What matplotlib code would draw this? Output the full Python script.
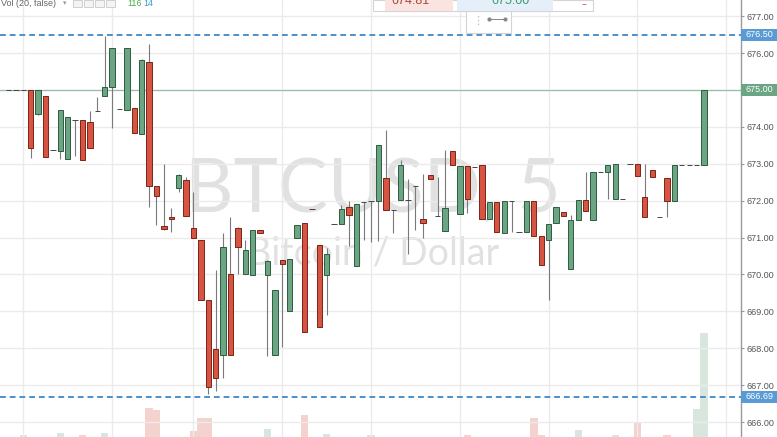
import matplotlib.pyplot as plt
from matplotlib.patches import Rectangle
from matplotlib.lines import Line2D
import matplotlib.transforms as mtransforms
import numpy as np

# 5 minute candles, BTCUSD
opens = [675.00, 675.00, 675.00,
         675.00, 674.34, 674.84, 673.37, 673.36, 673.12, 674.20, 674.20, 674.13, 674.43,
         674.84, 675.09, 674.48, 674.46, 674.50, 673.81, 675.75, 672.40, 671.31, 671.55,
         672.34, 672.56, 671.25, 670.93, 669.31, 667.99, 667.83, 670.00, 671.25, 670.01,
         669.99, 671.21, 669.99, 667.81, 670.39, 669.01, 670.98, 671.39, 671.77, 670.80,
         669.99, 671.36, 671.36, 671.84, 670.24, 671.97, 672.00, 671.99, 672.61, 671.75,
         672.02, 672.02, 672.40, 671.50, 672.70, 671.59, 671.18, 673.35, 671.65, 672.95,
         672.92, 672.97, 671.50, 671.97, 671.13, 671.99, 671.16, 671.15, 671.99, 671.03,
         670.93, 671.39, 671.69, 670.15, 671.47, 672.01, 671.47, 672.79, 672.79, 672.04,
         672.04, 672.99, 672.99, 672.11, 672.83, 671.57, 672.62, 672.00, 672.97, 672.97,
         672.97, 672.97]
highs = [675.00, 675.00, 675.00,
         675.00, 675.00, 674.84, 673.37, 674.46, 674.28, 674.20, 674.20, 674.44, 674.82,
         676.46, 676.15, 674.48, 676.15, 674.50, 675.85, 676.24, 672.40, 672.99, 671.79,
         672.72, 672.65, 672.24, 670.93, 669.31, 670.12, 671.12, 671.57, 671.30, 670.93,
         671.21, 671.21, 670.40, 669.58, 670.39, 670.43, 671.34, 671.39, 671.77, 670.80,
         670.73, 671.36, 671.88, 672.00, 671.90, 671.97, 672.00, 673.51, 673.92, 671.75,
         673.10, 672.58, 672.40, 672.72, 672.70, 672.63, 673.37, 673.35, 672.95, 672.95,
         672.92, 672.97, 671.97, 671.97, 671.99, 671.99, 671.16, 671.99, 671.99, 671.03,
         671.36, 671.83, 671.69, 671.61, 672.01, 672.79, 672.77, 672.79, 672.97, 672.99,
         672.04, 672.99, 672.99, 672.99, 672.83, 671.57, 672.62, 672.97, 672.97, 672.97,
         672.97, 675.00]
lows = [675.00, 675.00, 675.00,
        673.16, 674.32, 673.18, 673.37, 673.12, 673.12, 673.21, 673.10, 673.42, 674.43,
        674.84, 673.98, 674.48, 674.46, 673.83, 673.81, 671.83, 671.34, 671.20, 671.16,
        672.24, 671.59, 671.00, 669.31, 666.76, 666.85, 667.19, 667.83, 670.01, 670.01,
        669.99, 671.12, 667.79, 667.81, 668.04, 669.01, 670.98, 668.43, 671.77, 668.59,
        668.90, 671.36, 671.36, 670.77, 670.24, 670.93, 670.89, 670.92, 671.75, 671.13,
        672.02, 670.55, 671.21, 670.98, 672.59, 671.59, 671.18, 672.97, 671.65, 671.66,
        672.92, 671.51, 671.50, 671.15, 671.13, 671.15, 671.16, 671.15, 671.03, 670.25,
        669.31, 671.39, 671.59, 670.15, 671.47, 671.72, 671.47, 672.79, 672.04, 672.04,
        672.04, 672.99, 672.67, 671.57, 672.65, 671.57, 671.57, 672.00, 672.97, 672.97,
        672.97, 672.97]
closes = [675.00, 675.00, 675.00,
          673.42, 675.00, 673.18, 673.37, 674.46, 674.26, 674.20, 673.10, 673.42, 674.43,
          675.09, 676.15, 674.48, 676.15, 673.83, 675.81, 672.39, 672.13, 671.22, 671.50,
          672.70, 671.59, 671.00, 669.31, 666.96, 667.19, 670.75, 667.83, 670.74, 670.66,
          671.21, 671.12, 670.37, 669.58, 670.28, 670.43, 671.34, 668.43, 671.77, 668.59,
          670.55, 671.36, 671.77, 671.61, 671.90, 671.97, 672.00, 673.51, 671.75, 671.75,
          672.97, 672.02, 672.40, 671.39, 672.59, 671.59, 671.79, 672.97, 672.95, 672.04,
          672.92, 671.51, 671.97, 671.15, 671.99, 671.99, 671.16, 671.99, 671.03, 670.25,
          671.36, 671.83, 671.59, 671.48, 672.01, 671.72, 672.77, 672.79, 672.97, 672.99,
          672.04, 672.99, 672.67, 671.57, 672.65, 671.57, 672.00, 672.97, 672.97, 672.97,
          672.97, 675.00]
# volume (most bars are cut off by the bottom of the screenshot)
volumes = [0, 0, 2,
           0, 0, 0, 0, 4, 0, 0, 2, 0, 0,
           4.5, 0, 0, 0, 0, 0, 32, 30, 0, 0,
           0, 0, 7, 21, 21, 0, 0, 0, 0, 0,
           0, 0, 8.4, 0, 0, 0, 0, 25, 0, 0,
           3.6, 0, 0, 0, 0, 0, 2, 0, 0, 0,
           0, 0, 0, 0, 0, 0, 0, 0, 0, 2.7,
           0, 0, 0, 0, 0, 0, 0, 0, 21, 2.4,
           0, 0, 0, 0, 7.8, 0, 0, 0, 0, 2.7,
           0, 0, 16, 0, 0, 0, 1.8, 0, 0, 0,
           31, 116]

price_ticks = [666, 667, 668, 669, 670, 671, 672, 673, 674, 675, 676, 677]
time_grid = [2, 14, 25, 37, 49, 61, 73, 85, 97]
level_lines = [676.50, 666.69]
last_price = 675.00
widget_bid = '674.81'
widget_ask = '675.00'

GREEN = '#6ba583'
RED = '#d75442'
BLUE = '#5b9bd5'
UI_FONT = ['Liberation Sans', 'DejaVu Sans']

W, H = 777, 437
fig = plt.figure(figsize=(W / 100, H / 100), dpi=100)
fig.patch.set_facecolor('white')

def fx(px):
    return px / W

def fy(py):
    return 1 - py / H

pos = [0, 0, 741 / W, 1]
axv = fig.add_axes(pos)
ax = fig.add_axes(pos)
ax.patch.set_visible(False)

o = np.array(opens)
c = np.array(closes)
x = np.arange(len(o))
up = c >= o
xlim = (-1.15, 99.0)
ylim = (665.596, 677.439)

# volume bars
vcol = [(GREEN if u else RED) for u in up]
axv.bar(x, volumes, width=1.0, color=vcol, alpha=0.26, linewidth=0)
axv.set_xlim(xlim)
axv.set_ylim(0, 486)
axv.axis('off')

# grid
ax.set_xlim(xlim)
ax.set_ylim(ylim)
ax.set_yticks(price_ticks)
ax.set_yticklabels(['%.2f' % t for t in price_ticks], family=UI_FONT)
ax.set_xticks(time_grid)
ax.set_xticklabels([])
ax.grid(True, color='#ebebeb', lw=1, zorder=0)
ax.set_axisbelow(True)
ax.tick_params(axis='x', length=0)
ax.yaxis.tick_right()
ax.tick_params(axis='y', length=2.5, width=0.8, color='#999999',
               labelsize=6.5, labelcolor='#555555', pad=1.5)
for s in ['top', 'left', 'bottom']:
    ax.spines[s].set_visible(False)
ax.spines['right'].set_color('#9a9a9a')
ax.spines['right'].set_linewidth(1)

# watermark
ax.text(0.503, 0.565, 'BTCUSD, 5', transform=ax.transAxes, ha='center', va='center',
        fontsize=54, color='#8a8a8a', alpha=0.25, family='Lato', zorder=0.5)
ax.text(0.503, 0.421, 'Bitcoin / Dollar', transform=ax.transAxes, ha='center', va='center',
        fontsize=27, color='#8a8a8a', alpha=0.25, family='Lato', zorder=0.5)

# level lines
ax.axhline(last_price, color='#9cbcaa', lw=0.9, zorder=1.5)
for lv in level_lines:
    ax.axhline(lv, color='#4d8fcc', lw=1.4, ls=(0, (3, 2)), zorder=1.6)

# candles
body_col = [(GREEN if cc > oo else (RED if cc < oo else '#444444')) for oo, cc in zip(o, c)]
edge_col = [('#2d5c40' if cc > oo else ('#7a2418' if cc < oo else '#444444')) for oo, cc in zip(o, c)]
ax.vlines(x, lows, highs, color='#7a7a7c', lw=0.8, zorder=2)
ax.bar(x, np.abs(c - o), bottom=np.minimum(o, c), width=0.72, color=body_col,
       edgecolor=edge_col, linewidth=0.7, zorder=3)

# price labels on the axis
trans = mtransforms.blended_transform_factory(ax.transAxes, ax.transData)
for val, col in [(676.50, BLUE), (last_price, GREEN), (666.69, BLUE)]:
    ax.add_patch(Rectangle((1.0, val - 0.165), 36 / 741, 0.33, transform=trans,
                           facecolor=col, edgecolor='none', clip_on=False, zorder=6))
    ax.text(1.0 + 4.5 / 741, val, '%.2f' % val, transform=trans, va='center', ha='left',
            fontsize=6.5, color='white', family=UI_FONT, clip_on=False, zorder=7)

# top-left volume legend
fig.text(fx(1), fy(3), 'Vol (20, false)', fontsize=6.5, color='#666666', va='center', family=UI_FONT)
fig.text(fx(63), fy(3), '\u25be', fontsize=5, color='#999999', va='center')
for sx in [73, 84, 95, 106]:
    fig.add_artist(Rectangle((fx(sx), fy(7)), fx(9), 7 / H, transform=fig.transFigure,
                             facecolor='#f4f4f4', edgecolor='#cfcfcf', lw=0.7))
fig.text(fx(127), fy(3), '116', fontsize=6.5, color='#4caf50', va='center', family=UI_FONT)
fig.text(fx(143), fy(3), '14', fontsize=6.5, color='#3d9ad8', va='center', family=UI_FONT)

# top price widget
fig.add_artist(Rectangle((fx(373), fy(11)), fx(220), 11 / H, transform=fig.transFigure,
                         facecolor='white', edgecolor='#d4d4d4', lw=0.8, zorder=5))
fig.add_artist(Rectangle((fx(385), fy(10.5)), fx(68), 10.5 / H, transform=fig.transFigure,
                         facecolor='#fbe4e0', edgecolor='none', zorder=6))
fig.add_artist(Rectangle((fx(457), fy(10.5)), fx(96), 10.5 / H, transform=fig.transFigure,
                         facecolor='#e4eff9', edgecolor='none', zorder=6))
fig.text(fx(391), fy(1), widget_bid, fontsize=9, color='#a8453a', va='center', family=UI_FONT, zorder=7)
fig.text(fx(491), fy(1), widget_ask, fontsize=9, color='#3f9a6a', va='center', family=UI_FONT, zorder=7)
fig.text(fx(582), fy(4), '\u2013', fontsize=7, color=RED, va='center', zorder=7)
fig.add_artist(Rectangle((fx(466), fy(33)), fx(45), 22 / H, transform=fig.transFigure,
                         facecolor='white', edgecolor='#d4d4d4', lw=0.8, zorder=5))
fig.text(fx(472), fy(21), '\u22ee', fontsize=8, color='#bbbbbb', va='center', zorder=7)
fig.add_artist(Line2D([fx(489), fx(505)], [fy(19), fy(19)], transform=fig.transFigure,
                      color='#888888', lw=0.7, marker='o', markersize=2, zorder=7))

fig.savefig('out.png', dpi=100, facecolor='white')
